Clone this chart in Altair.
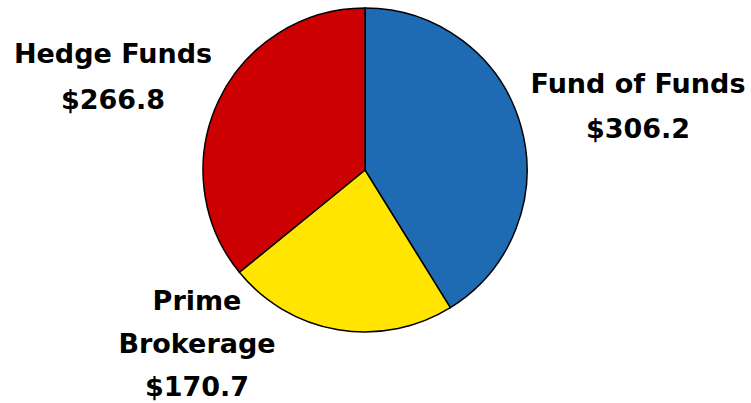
import altair as alt
import pandas as pd

categories = ["Fund of Funds", "Prime Brokerage", "Hedge Funds"]
values = [306.2, 170.7, 266.8]
colors = ["#1F6BB3", "#FFE500", "#CC0000"]
label_lines = [["Fund of Funds", "$306.2"], ["Prime", "Brokerage", "$170.7"], ["Hedge Funds", "$266.8"]]

df = pd.DataFrame({"category": categories, "value": values, "order": [0, 1, 2]})

FONT = "DejaVu Sans"

pie = alt.Chart(df).mark_arc(outerRadius=162, stroke="black", strokeWidth=1.5).encode(
    theta=alt.Theta("value:Q", stack=True),
    color=alt.Color("category:N", scale=alt.Scale(domain=categories, range=colors), legend=None),
    order=alt.Order("order:Q"),
    x=alt.value(365),
    y=alt.value(170),
)

# (x centre, first-line centre y, line height)
label_pos = {"Fund of Funds": (638, 85, 45), "Prime Brokerage": (197, 302, 43), "Hedge Funds": (113, 55, 46)}

layers = [pie]
for cat, lines in zip(categories, label_lines):
    px, py, lh = label_pos[cat]
    ldf = pd.DataFrame({"label": ["\n".join(lines)]})
    layers.append(
        alt.Chart(ldf).mark_text(
            font=FONT, fontWeight="bold", fontSize=27, align="center", baseline="middle",
            lineBreak="\n", lineHeight=lh, color="black",
        ).encode(text="label:N", x=alt.value(px), y=alt.value(py))
    )

chart = alt.layer(*layers).properties(
    width=751, height=403, padding=0, autosize=alt.AutoSizeParams(type="none"),
    background="white",
).configure_view(stroke=None)

chart.save("out.html", embed_options={"renderer": "svg", "actions": False})
